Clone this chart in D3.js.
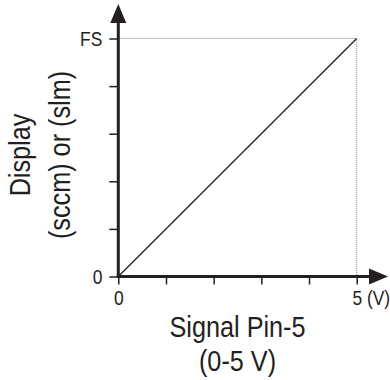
<!DOCTYPE html>
<html>
<head>
<meta charset="utf-8">
<script src="https://cdn.jsdelivr.net/npm/d3@7"></script>
<style>
  body { margin: 0; background: #fff; }
  text { font-family: "Liberation Sans", Arial, Helvetica, sans-serif; fill: #231f20; }
</style>
</head>
<body>
<div class="canvas"></div>
<script>
// chart values
const signal = [0, 5];          // Signal Pin-5 (V)
const display = [0, 5];         // display, 5 = full scale
const xTicks = [0, 1, 2, 3, 4, 5];
const xTickLabels = ["0", "", "", "", "", "5 (V)"];
const yTicks = [0, 1, 2, 3, 4, 5];
const yTickLabels = ["0", "", "", "", "", "FS"];
const xTitle = ["Signal Pin-5", "(0-5 V)"];
const yTitle = ["Display", "(sccm) or (slm)"];

// dimensions
const W = 390, H = 380;
const margin = {top: 38.5, right: 33.3, bottom: 103.5, left: 118.3},
    width = W - margin.left - margin.right,
    height = H - margin.top - margin.bottom;
const squeeze = 0.87;   // narrow type like the original

const svg = d3.select(".canvas")
  .append("svg")
    .attr("width", W)
    .attr("height", H);

const g = svg.append("g")
    .attr("transform", `translate(${margin.left},${margin.top})`);

const x = d3.scaleLinear().domain([0, 5]).range([0, width]);
const y = d3.scaleLinear().domain([0, 5]).range([height, 0]);

// dotted guides to full scale
g.append("path")
    .attr("d", `M${x(0)},${y(display[1])}H${x(signal[1])}V${y(0)}`)
    .attr("fill", "none")
    .attr("stroke", "#8a8a8a")
    .attr("stroke-width", 1)
    .attr("stroke-dasharray", "1,1");

// the signal -> display line
g.append("path")
    .datum(signal.map((s, i) => [s, display[i]]))
    .attr("d", d3.line().x(d => x(d[0])).y(d => y(d[1])))
    .attr("fill", "none")
    .attr("stroke", "#231f20")
    .attr("stroke-width", 1.3);

// X axis ticks
const xAxis = g.append("g")
    .attr("transform", `translate(0,${height})`)
    .call(d3.axisBottom(x).tickValues(xTicks).tickSize(8).tickSizeOuter(0)
      .tickFormat((d, i) => xTickLabels[i]));
xAxis.select(".domain").remove();
xAxis.selectAll(".tick line").attr("stroke", "#231f20").attr("stroke-width", 1.5);
xAxis.selectAll(".tick text")
    .attr("y", 0).attr("dy", 0)
    .attr("text-anchor", (d, i) => i === xTicks.length - 1 ? "start" : "middle")
    .attr("transform", (d, i) => `translate(${i === xTicks.length - 1 ? -4.8 : 0},28) scale(${squeeze},1)`)
    .style("font-size", "20px");

// Y axis ticks
const yAxis = g.append("g")
    .call(d3.axisLeft(y).tickValues(yTicks).tickSize(9).tickSizeOuter(0)
      .tickFormat((d, i) => yTickLabels[i]));
yAxis.select(".domain").remove();
yAxis.selectAll(".tick line").attr("stroke", "#231f20").attr("stroke-width", 1.5);
yAxis.selectAll(".tick text")
    .attr("x", 0).attr("dy", 0)
    .attr("text-anchor", "end")
    .attr("transform", `translate(-16,7) scale(${squeeze},1)`)
    .style("font-size", "20px");

// thick axis lines with arrow heads
const xEnd = W - 2 - margin.left, yEnd = 4 - margin.top;
g.append("line")
    .attr("x1", x(0) - 1.5).attr("x2", xEnd - 16)
    .attr("y1", y(0)).attr("y2", y(0))
    .attr("stroke", "#231f20").attr("stroke-width", 3);
g.append("line")
    .attr("x1", x(0)).attr("x2", x(0))
    .attr("y1", y(0) + 1.5).attr("y2", yEnd + 16)
    .attr("stroke", "#231f20").attr("stroke-width", 3);
g.append("path")
    .attr("d", `M${xEnd},${y(0)}L${xEnd - 19},${y(0) - 8}L${xEnd - 19},${y(0) + 8}Z`)
    .attr("fill", "#231f20");
g.append("path")
    .attr("d", `M${x(0)},${yEnd}L${x(0) - 8},${yEnd + 19}L${x(0) + 8},${yEnd + 19}Z`)
    .attr("fill", "#231f20");

// x axis title
svg.selectAll(".xtitle")
  .data(xTitle)
  .join("text")
    .attr("class", "xtitle")
    .attr("text-anchor", "middle")
    .attr("transform", (d, i) => `translate(${margin.left + width / 2},${337 + i * 34}) scale(${squeeze},1)`)
    .style("font-size", "29px")
    .text(d => d);

// y axis title
svg.selectAll(".ytitle")
  .data(yTitle)
  .join("text")
    .attr("class", "ytitle")
    .attr("text-anchor", "middle")
    .attr("transform", (d, i) => `translate(${30 + i * 40},155) rotate(-90) scale(${squeeze},1)`)
    .style("font-size", "29px")
    .text(d => d);
</script>
</body>
</html>
